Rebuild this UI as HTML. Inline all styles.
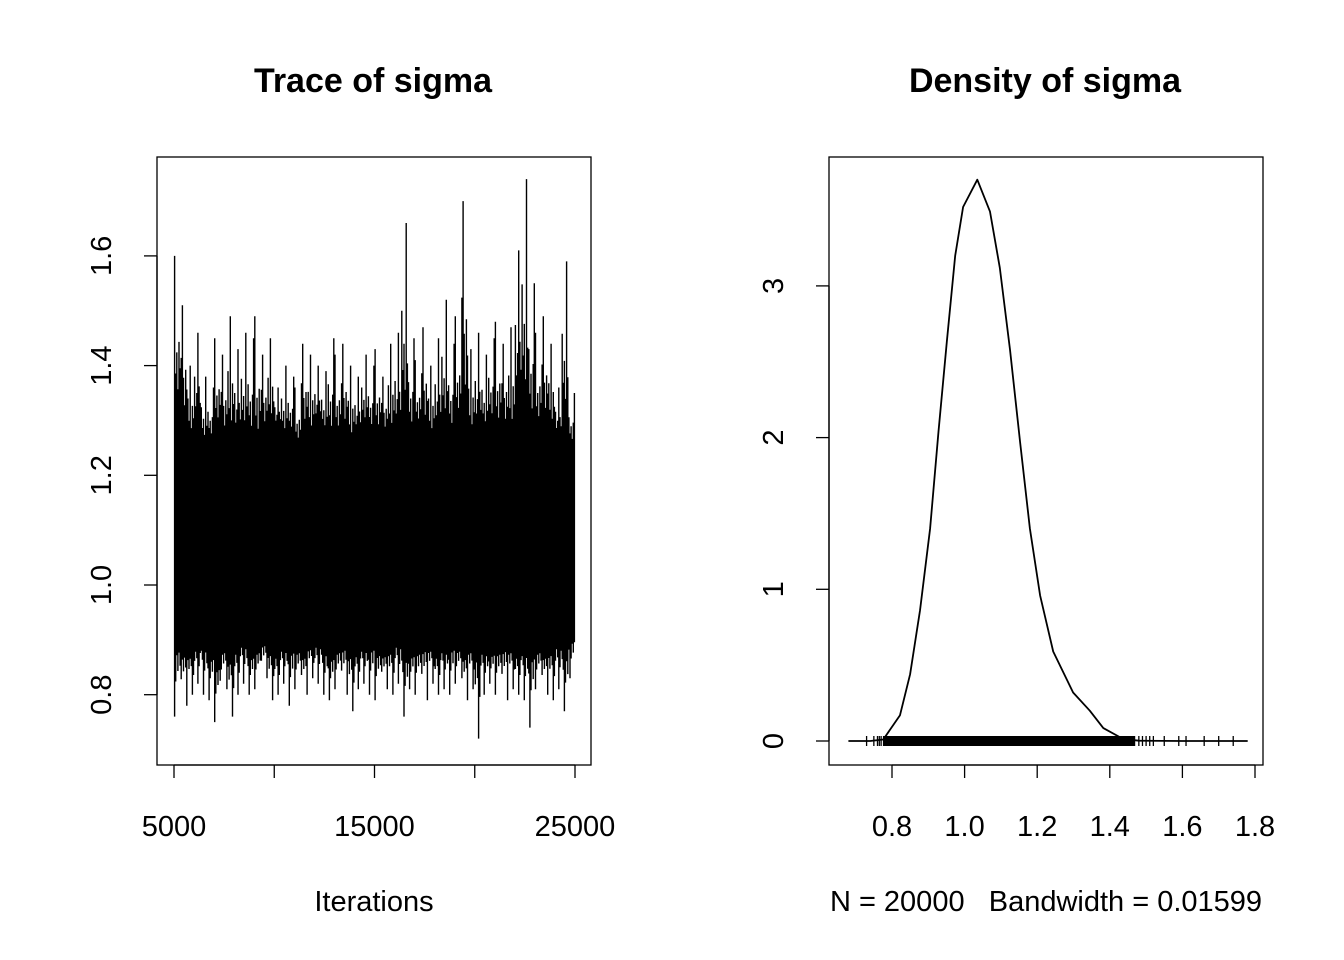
<!DOCTYPE html>
<html><head><meta charset="utf-8"><style>
html,body{margin:0;padding:0;background:#fff;}
svg{display:block;font-family:"Liberation Sans",Arial,sans-serif;}
</style></head><body>
<svg id="chart" width="1344" height="960" viewBox="0 0 1344 960" xmlns="http://www.w3.org/2000/svg">
<rect width="1344" height="960" fill="#fff"/>
<g id="left"></g>
<g id="right"></g>
</svg>
<script>
// ---- Trace data ----
const traceStart = 5000, traceEnd = 25000;
const traceHi = [1.60,1.51,1.40,1.46,1.38,1.36,1.45,1.42,1.49,1.43,1.46,1.45,1.49,1.42,1.45,1.36,1.40,1.38,1.36,1.44,1.42,1.40,1.39,1.45,1.42,1.44,1.40,1.38,1.42,1.40,1.43,1.38,1.44,1.46,1.66,1.45,1.41,1.47,1.40,1.45,1.52,1.44,1.49,1.70,1.43,1.46,1.42,1.45,1.48,1.44,1.47,1.61,1.74,1.55,1.46,1.49,1.44,1.36,1.59,1.35];
const traceLo = [0.76,0.78,0.80,0.82,0.80,0.79,0.75,0.81,0.76,0.80,0.82,0.80,0.81,0.83,0.79,0.80,0.82,0.78,0.81,0.80,0.83,0.82,0.80,0.79,0.81,0.80,0.77,0.81,0.82,0.80,0.79,0.81,0.80,0.82,0.76,0.81,0.80,0.79,0.82,0.80,0.81,0.80,0.82,0.79,0.81,0.72,0.80,0.82,0.80,0.79,0.81,0.80,0.79,0.74,0.81,0.80,0.79,0.81,0.77,0.83];
const traceCoreHi = [1.28,1.27,1.25,1.26,1.24,1.25,1.26,1.25,1.24,1.23,1.25,1.24,1.22,1.26,1.27,1.27,1.25,1.26,1.24,1.26,1.25,1.27,1.26,1.24,1.25,1.26,1.24,1.25,1.27,1.26,1.25,1.26,1.25,1.24,1.26,1.25,1.27,1.26,1.25,1.24,1.26,1.25,1.27,1.26,1.25,1.24,1.26,1.27,1.25,1.26,1.25,1.27,1.26,1.25,1.26,1.27,1.26,1.25,1.26,1.24];
const traceCoreLo = [0.92,0.90,0.89,0.90,0.91,0.89,0.88,0.90,0.89,0.90,0.91,0.89,0.90,0.91,0.90,0.89,0.90,0.91,0.90,0.89,0.90,0.91,0.90,0.89,0.90,0.91,0.90,0.89,0.90,0.91,0.90,0.89,0.90,0.91,0.90,0.89,0.90,0.91,0.90,0.89,0.90,0.91,0.90,0.89,0.90,0.91,0.90,0.89,0.90,0.91,0.90,0.89,0.90,0.91,0.90,0.89,0.90,0.91,0.90,0.92];
const traceXTicks = [5000,10000,15000,20000,25000];
const traceXLabels = ["5000","","15000","","25000"];
const traceYTicks = [0.8,1.0,1.2,1.4,1.6];
const traceYLabels = ["0.8","1.0","1.2","1.4","1.6"];
// ---- Density data ----
const densX = [0.68,0.74,0.776,0.822,0.850,0.877,0.905,0.928,0.951,0.974,0.996,1.035,1.070,1.097,1.125,1.153,1.180,1.208,1.244,1.299,1.345,1.382,1.437,1.48,1.60,1.78];
const densY = [0,0,0.01,0.17,0.44,0.86,1.40,2.04,2.63,3.20,3.52,3.70,3.49,3.12,2.58,1.97,1.40,0.96,0.59,0.32,0.20,0.085,0.013,0.002,0,0];
const rugSparse = [0.73,0.75,0.76,0.765,0.77,1.48,1.49,1.50,1.51,1.52,1.55,1.59,1.61,1.66,1.70,1.74];
const rugDenseRange = [0.775,1.47];
const densXTicks = [0.8,1.0,1.2,1.4,1.6,1.8];
const densXLabels = ["0.8","1.0","1.2","1.4","1.6","1.8"];
const densYTicks = [0,1,2,3];
const densYLabels = ["0","1","2","3"];

const NS="http://www.w3.org/2000/svg";
function mk(parent, tag, attrs){const e=document.createElementNS(NS,tag);for(const k in attrs)e.setAttribute(k,attrs[k]);parent.appendChild(e);return e;}
// axis functions
const txX = v => 174 + (v-5000)*(401/20000);
const txY = v => 585 - (v-1.0)*(548.5);
const dX = v => 892 + (v-0.8)*363;
const dY = v => 741 - v*151.7;

const L=document.getElementById('left'), R=document.getElementById('right');

// Left panel
let t=mk(L,'text',{x:373,y:92,'text-anchor':'middle','font-size':34,'font-weight':'bold'});t.textContent='Trace of sigma';


let box=mk(L,'rect',{x:157,y:157,width:434,height:608,fill:'none',stroke:'#000','stroke-width':1.3});


// trace series
const n=traceHi.length, bw=(traceEnd-traceStart)/n;
let core='';
for(let i=0;i<n;i++){core+=(i?'L':'M')+txX(traceStart+i*bw)+','+txY(traceCoreHi[i])+'L'+txX(traceStart+(i+1)*bw)+','+txY(traceCoreHi[i]);}
for(let i=n-1;i>=0;i--){core+='L'+txX(traceStart+(i+1)*bw)+','+txY(traceCoreLo[i])+'L'+txX(traceStart+i*bw)+','+txY(traceCoreLo[i]);}
const coreEl=mk(L,'path',{d:core+'Z',fill:'#000'});


let sp='';
for(let i=0;i<n;i++){
  const x0=traceStart+i*bw;
  for(let k=0;k<6;k++){
    const x=txX(x0+bw*(k+0.5)/6);
    const fh=[1,0.55,0.75,0.4,0.85,0.6][k], fl=[0.6,1,0.5,0.8,0.45,0.7][(k+i)%6];
    const hi=traceCoreHi[i]+(traceHi[i]-traceCoreHi[i])*(k===((i*7)%6)?1:fh*0.6);
    const lo=traceCoreLo[i]-(traceCoreLo[i]-traceLo[i])*(k===((i*5)%6)?1:fl*0.6);
    sp+='M'+x.toFixed(1)+','+txY(hi).toFixed(1)+'V'+txY(lo).toFixed(1);
  }
}
const spEl=mk(L,'path',{d:sp,stroke:'#000','stroke-width':1.4,fill:'none'});


// x axis
mk(L,'line',{x1:txX(5000),x2:txX(25000),y1:765,y2:765,stroke:'#000','stroke-width':1.3});
traceXTicks.forEach((v,i)=>{
  mk(L,'line',{x1:txX(v),x2:txX(v),y1:765,y2:778,stroke:'#000','stroke-width':1.3});
  if(traceXLabels[i]){const e=mk(L,'text',{x:txX(v),y:836,'text-anchor':'middle','font-size':29});e.textContent=traceXLabels[i];
  
  }
});
t=mk(L,'text',{x:374,y:911,'text-anchor':'middle','font-size':29});t.textContent='Iterations';


// y axis
mk(L,'line',{x1:157,x2:157,y1:txY(0.8),y2:txY(1.6),stroke:'#000','stroke-width':1.3});
traceYTicks.forEach((v,i)=>{
  mk(L,'line',{x1:144,x2:157,y1:txY(v),y2:txY(v),stroke:'#000','stroke-width':1.3});
  const e=mk(L,'text',{x:0,y:0,'text-anchor':'middle','font-size':29,transform:`translate(111,${txY(v)}) rotate(-90)`});e.textContent=traceYLabels[i];
  
  
});

// Right panel
t=mk(R,'text',{x:1045,y:92,'text-anchor':'middle','font-size':34,'font-weight':'bold'});t.textContent='Density of sigma';


box=mk(R,'rect',{x:829,y:157,width:434,height:608,fill:'none',stroke:'#000','stroke-width':1.3});


let dp='';
densX.forEach((v,i)=>{dp+=(i?'L':'M')+dX(v).toFixed(1)+','+dY(densY[i]).toFixed(1);});
const dEl=mk(R,'path',{d:dp,fill:'none',stroke:'#000','stroke-width':1.8,'stroke-linejoin':'round'});


const rugBand=mk(R,'rect',{x:dX(rugDenseRange[0]),y:736,width:dX(rugDenseRange[1])-dX(rugDenseRange[0]),height:10,fill:'#000'});


rugSparse.forEach(v=>{
  const e=mk(R,'line',{x1:dX(v),x2:dX(v),y1:736,y2:746,stroke:'#000','stroke-width':1.3});
  
  
});
mk(R,'line',{x1:dX(0.8),x2:dX(1.8),y1:765,y2:765,stroke:'#000','stroke-width':1.3});
densXTicks.forEach((v,i)=>{
  mk(R,'line',{x1:dX(v),x2:dX(v),y1:765,y2:778,stroke:'#000','stroke-width':1.3});
  const e=mk(R,'text',{x:dX(v),y:836,'text-anchor':'middle','font-size':29});e.textContent=densXLabels[i];
  
  
});
t=mk(R,'text',{x:1046,y:911,'text-anchor':'middle','font-size':29});t.textContent='N = 20000   Bandwidth = 0.01599';
t.setAttribute('xml:space','preserve');t.style.whiteSpace='pre';


mk(R,'line',{x1:829,x2:829,y1:dY(0),y2:dY(3),stroke:'#000','stroke-width':1.3});
densYTicks.forEach((v,i)=>{
  mk(R,'line',{x1:816,x2:829,y1:dY(v),y2:dY(v),stroke:'#000','stroke-width':1.3});
  const e=mk(R,'text',{x:0,y:0,'text-anchor':'middle','font-size':29,transform:`translate(783,${dY(v)}) rotate(-90)`});e.textContent=densYLabels[i];
  
  
});
</script>
</body></html>
